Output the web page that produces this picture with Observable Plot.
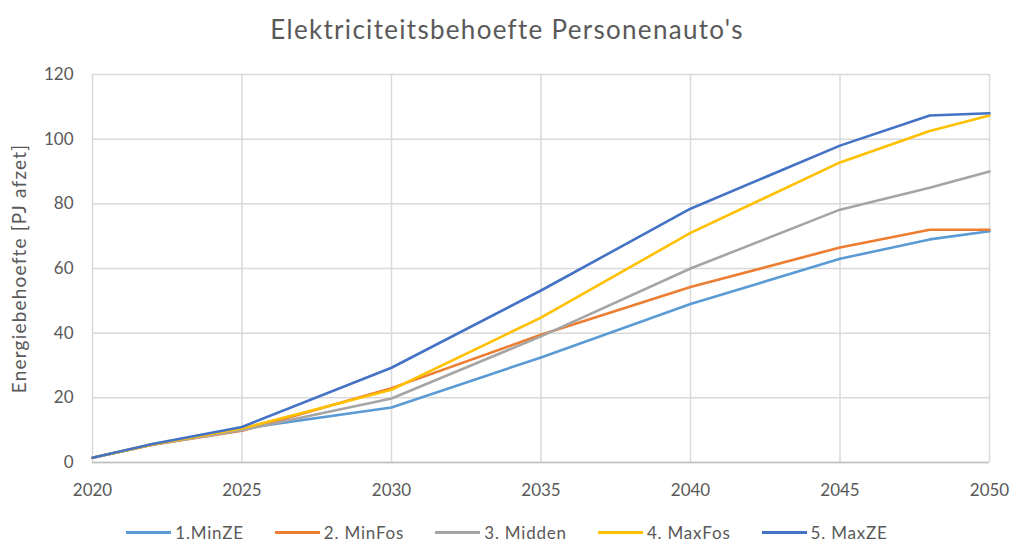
<!DOCTYPE html>
<html>
<head>
<meta charset="utf-8">
<script src="https://cdn.jsdelivr.net/npm/d3@7"></script>
<script src="https://cdn.jsdelivr.net/npm/@observablehq/plot@0.6"></script>
<style>
  html, body { margin: 0; padding: 0; background: #ffffff; }
  body { width: 1014px; height: 546px; overflow: hidden; font-family: Lato, "Open Sans", sans-serif; color: #595959; }
  #title { height: 60px; line-height: 58px; text-align: center; font-size: 26px; letter-spacing: 1.3px; color: #595959; }
  #legend { display: flex; justify-content: center; align-items: center; gap: 31px; font-size: 17px; letter-spacing: 0.8px; margin-top: 14px; }
  .item { display: flex; align-items: center; }
  .sw { width: 45px; height: 3px; margin-right: 4px; }
  #chart svg [aria-label="y-axis label"] text { font-size: 19px; letter-spacing: 1.2px; }
</style>
</head>
<body>
<div id="title">Elektriciteitsbehoefte Personenauto's</div>
<div id="chart"></div>
<div id="legend"></div>
<script>
const years = [2020, 2022, 2025, 2030, 2035, 2040, 2045, 2048, 2050];
const seriesNames = ["1.MinZE", "2. MinFos", "3. Midden", "4. MaxFos", "5. MaxZE"];
const seriesColors = ["#5B9BD5", "#ED7D31", "#A5A5A5", "#FFC000", "#4472C4"];
const minZE  = [1.5, 5.5, 10.5, 17.0, 32.5, 49.0, 63.0, 69.0, 71.5];
const minFos = [1.5, 5.5,  9.8, 23.0, 39.5, 54.3, 66.5, 72.0, 72.0];
const midden = [1.5, 5.5, 10.0, 19.8, 39.0, 60.0, 78.2, 85.0, 90.0];
const maxFos = [1.5, 5.6, 10.5, 22.5, 44.8, 71.0, 92.8, 102.5, 107.3];
const maxZE  = [1.5, 5.7, 11.0, 29.3, 53.2, 78.5, 98.0, 107.3, 108.0];
const xTicks = [2020, 2025, 2030, 2035, 2040, 2045, 2050];
const yTicks = [0, 20, 40, 60, 80, 100, 120];
const yLabel = "Energiebehoefte [PJ afzet]";

const allValues = [minZE, minFos, midden, maxFos, maxZE];
const data = [];
allValues.forEach((vals, i) => {
  vals.forEach((v, j) => data.push({series: seriesNames[i], year: years[j], value: v}));
});

const chart = Plot.plot({
  width: 1014,
  height: 448,
  marginLeft: 92,
  marginRight: 25,
  marginTop: 14,
  marginBottom: 46,
  style: {fontSize: "17px", fontFamily: "Lato, 'Open Sans', sans-serif", color: "#595959", background: "#ffffff"},
  x: {domain: [2020, 2050]},
  y: {domain: [0, 120]},
  color: {domain: seriesNames, range: seriesColors},
  marks: [
    Plot.gridX(xTicks, {stroke: "#d9d9d9", strokeOpacity: 1, strokeWidth: 1.5}),
    Plot.gridY(yTicks, {stroke: "#d9d9d9", strokeOpacity: 1, strokeWidth: 1.5}),
    Plot.ruleY([0], {stroke: "#bfbfbf", strokeWidth: 1.5}),
    Plot.axisX({ticks: xTicks, tickFormat: d => String(d), tickSize: 0, tickPadding: 21, label: null, fontSize: 17}),
    Plot.axisY({ticks: yTicks, tickSize: 0, tickPadding: 19, label: yLabel, labelAnchor: "center", labelArrow: "none", labelOffset: 80, fontSize: 17}),
    Plot.line(data, {x: "year", y: "value", z: "series", stroke: "series", strokeWidth: 2.6, strokeLinejoin: "round", strokeLinecap: "round"})
  ]
});
document.getElementById("chart").appendChild(chart);

const legend = document.getElementById("legend");
seriesNames.forEach((name, i) => {
  const it = document.createElement("div");
  it.className = "item";
  const sw = document.createElement("span");
  sw.className = "sw";
  sw.style.background = seriesColors[i];
  const lb = document.createElement("span");
  lb.textContent = name;
  it.appendChild(sw);
  it.appendChild(lb);
  legend.appendChild(it);
});
</script>
</body>
</html>
